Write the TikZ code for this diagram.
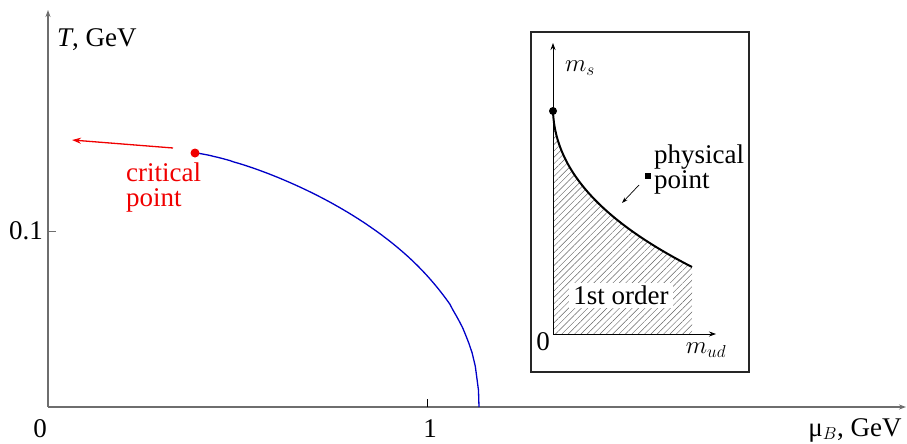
\documentclass[tikz,border=0pt]{standalone}
\usepackage{fontspec}
\setmainfont{Liberation Serif}
\usepackage{tikz}
\usetikzlibrary{arrows.meta, positioning, patterns.meta}
\definecolor{PDAxis}{RGB}{110, 110, 110}
\definecolor{PDBlue}{RGB}{0, 0, 200}
\definecolor{PDRed}{RGB}{240, 0, 0}
\definecolor{PDHatch}{RGB}{100, 100, 100}

\tikzset{
  axisline/.style={PDAxis, line width=1.3pt, -{Stealth[length=7pt, width=5pt]}},
  insetaxis/.style={black, line width=0.8pt, -{Stealth[length=7pt, width=5pt]}},
  lbl/.style={font=\fontsize{27}{25}\selectfont, inner sep=0pt},
}

\begin{document}
\begin{tikzpicture}[x=1pt,y=-1pt]
  \path[use as bounding box] (0,0) rectangle (907,444);
  % main axes
  \coordinate (o) at (48,407);
  \draw[axisline] (o) -- (48,10);
  \draw[axisline] (o) -- (906,407);
  \draw[PDAxis, line width=0.8pt] (48,231) -- (56,231);
  \draw[black, line width=0.8pt] (427,407) -- (427,399);
  \node[lbl, anchor=west] (tlab) at (57,40) {\textit{T}, GeV};
  \node[lbl, anchor=east] (tick01) at (43,231) {0.1};
  \node[lbl] (zero) at (40,429) {0};
  \node[lbl] (one) at (430,429) {1};
  \node[lbl] (mulab) at (855,430) {μ$_B$, GeV};

  % transition line
  \coordinate (tend) at (479,407);
  \draw[PDBlue, line width=1.3pt] plot[domain=0:0.999, samples=90, variable=\t]
    ({195+284*\t}, {407-254*pow(1-pow(max(\t,0.0001),1.3),0.45)}) -- (tend);
  \node[circle, fill=PDRed, inner sep=0pt, minimum size=9pt] (cp) at (195,153) {};
  \coordinate (cpfrom) at (173,148);
  \coordinate (cpto) at (72,140);
  \draw[PDRed, line width=1.3pt, -{Stealth[length=9pt, width=6pt]}] (cpfrom) -- (cpto);
  \node[lbl, PDRed, align=left, anchor=north west] (cplab) at (126,163) {critical\\point};

  % inset
  \draw[black!85, line width=1.3pt] (531,32) rectangle (749,372);
  \coordinate (io) at (553,334);
  \coordinate (ctop) at (553,111);
  \coordinate (cend) at (692,267);
  \fill[pattern={Lines[angle=45, distance=4.5pt, line width=0.45pt]}, pattern color=PDHatch]
    (ctop) .. controls (555,175) and (610,225) .. (cend) -- (692,334) -- (io) -- cycle;
  \draw[insetaxis] (io) -- (553,43);
  \draw[insetaxis] (io) -- (716,334);
  \draw[black, line width=2pt] (ctop) .. controls (555,175) and (610,225) .. (cend);
  \node[circle, fill=black, inner sep=0pt, minimum size=8pt] (tcp) at (ctop) {};
  \node[lbl] (izero) at (543,342) {0};
  \node[lbl] (mslab) at (580,68) {$m_s$};
  \node[lbl] (mudlab) at (706,350) {$m_{ud}$};
  \node[lbl, fill=white, inner xsep=4pt, inner ysep=3pt] (order) at (621,295) {1st order};
  \node[fill=black, inner sep=0pt, minimum size=6pt] (pp) at (648,176) {};
  \node[lbl, align=left, anchor=west] (pplab) at (654,170) {physical\\point};
  \coordinate (ppfrom) at (639,185);
  \coordinate (ppto) at (622,203);
  \draw[black, line width=0.7pt, -{Stealth[length=6pt, width=4pt]}] (ppfrom) -- (ppto);
\end{tikzpicture}
\end{document}
